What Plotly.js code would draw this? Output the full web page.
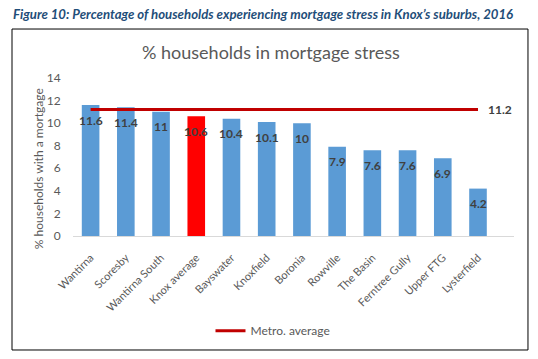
<!DOCTYPE html>
<html>
<head>
<meta charset="utf-8">
<script src="https://cdn.plot.ly/plotly-3.0.1.min.js"></script>
<style>html,body{margin:0;padding:0;background:#fff;}#chart{width:538px;height:359px;}</style>
</head>
<body>
<div id="chart"></div>
<script>
const suburbs = ["Wantirna","Scoresby","Wantirna South","Knox average","Bayswater","Knoxfield","Boronia","Rowville","The Basin","Ferntree Gully","Upper FTG","Lysterfield"];
const stressPct = [11.6,11.4,11,10.6,10.4,10.1,10,7.9,7.6,7.6,6.9,4.2];
const barColours = ["#5B9BD5","#5B9BD5","#5B9BD5","#FF0000","#5B9BD5","#5B9BD5","#5B9BD5","#5B9BD5","#5B9BD5","#5B9BD5","#5B9BD5","#5B9BD5"];
const metroAverage = 11.2;
const yTicks = [0,2,4,6,8,10,12,14];

const FONT = "Lato, 'Open Sans', sans-serif";
const grey = "#595959";

const traces = [
  {
    type: "bar", x: suburbs, y: stressPct,
    marker: {color: barColours},
    showlegend: false, hoverinfo: "x+y"
  },
  {
    type: "scatter", mode: "lines",
    x: [suburbs[0], suburbs[suburbs.length-1]],
    y: [metroAverage, metroAverage],
    line: {color: "#C00000", width: 3},
    name: "Metro. average"
  }
];

const annotations = suburbs.map((s,i)=>({
  x: s, y: stressPct[i], xref: "x", yref: "y",
  text: String(stressPct[i]), showarrow: false,
  yanchor: "middle", yshift: -15,
  font: {family: FONT, size: 12, color: "#404040", weight: "bold"}
}));
annotations.push({
  x: suburbs[suburbs.length-1], y: metroAverage, xref: "x", yref: "y",
  text: String(metroAverage), showarrow: false, xanchor: "left", xshift: 8,
  font: {family: FONT, size: 12, color: "#404040", weight: "bold"}
});
annotations.push({
  x: -0.141, y: 1.405, xref: "paper", yref: "paper", xanchor: "left", yanchor: "middle",
  text: "<b><i>Figure 10: Percentage of households experiencing mortgage stress in Knox’s suburbs, 2016</i></b>",
  showarrow: false, font: {family: FONT, size: 13.2, color: "#1F4E79"}
});
annotations.push({
  x: 0.449, y: 1.165, xref: "paper", yref: "paper", xanchor: "center", yanchor: "middle",
  text: "% households in mortgage stress", showarrow: false,
  font: {family: FONT, size: 18, color: grey}
});
annotations.push({
  x: -0.079, y: 0.424, xref: "paper", yref: "paper", xanchor: "center", yanchor: "middle",
  text: "% households with a mortgage", textangle: -90, showarrow: false,
  font: {family: FONT, size: 12, color: grey}
});

const layout = {
  width: 538, height: 359,
  margin: {l: 73, r: 24, t: 78, b: 123},
  paper_bgcolor: "#fff", plot_bgcolor: "#fff",
  font: {family: FONT, color: grey},
  bargap: 0.5,
  xaxis: {
    tickangle: -45, tickfont: {size: 11, color: grey},
    showline: true, linecolor: "#D9D9D9", linewidth: 1,
    ticks: "outside", ticklen: 10, tickcolor: "rgba(0,0,0,0)",
    showgrid: false, zeroline: false, fixedrange: true
  },
  yaxis: {
    range: [0, 14], tickvals: yTicks, tickfont: {size: 12, color: grey},
    showgrid: false, zeroline: false, showline: false,
    ticks: "outside", ticklen: 9, tickcolor: "rgba(0,0,0,0)", fixedrange: true
  },
  legend: {
    orientation: "h", x: 0.4535, xanchor: "center", y: -0.60, yanchor: "middle",
    font: {size: 12, color: grey}, bgcolor: "rgba(0,0,0,0)"
  },
  annotations: annotations,
  shapes: [{
    type: "rect", xref: "paper", yref: "paper",
    x0: -0.1383, x1: 1.0317, y0: -0.7215, y1: 1.310,
    line: {color: "#000", width: 1}, fillcolor: "rgba(0,0,0,0)", layer: "below"
  }]
};

Plotly.newPlot("chart", traces, layout, {displayModeBar: false, staticPlot: true});
</script>
</body>
</html>
